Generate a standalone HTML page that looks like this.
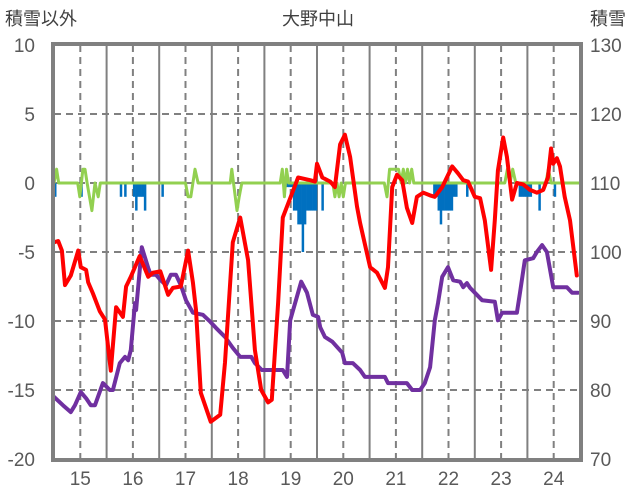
<!DOCTYPE html>
<html><head><meta charset="utf-8">
<style>
html,body{margin:0;padding:0;background:#fff;}
svg{display:block;font-family:"Liberation Sans","Noto Sans CJK JP",sans-serif;}
</style></head>
<body>
<svg id="chart" width="636" height="501" viewBox="0 0 636 501" xmlns="http://www.w3.org/2000/svg">
<text x="5" y="25" font-size="18" fill="#404040">積雪以外</text>
<text x="318" y="25" font-size="18" fill="#404040" text-anchor="middle">大野中山</text>
<text x="590" y="25" font-size="18" fill="#404040">積雪</text>
<g id="grid"></g>
<g id="bars"></g>
<g id="lines"></g>
<g id="axes"></g>
</svg>
<script>
const leftTicks = [10, 5, 0, -5, -10, -15, -20];
const rightTicks = [130, 120, 110, 100, 90, 80, 70];
const dayLabels = [15, 16, 17, 18, 19, 20, 21, 22, 23, 24];

const redT = [15.00,15.08,15.15,15.21,15.32,15.46,15.51,15.61,15.65,15.74,15.87,15.97,16.08,16.18,16.31,16.37,16.46,16.63,16.79,16.88,17.02,17.17,17.26,17.41,17.55,17.64,17.70,17.79,17.98,18.16,18.25,18.40,18.54,18.69,18.82,18.94,19.07,19.14,19.26,19.35,19.49,19.64,19.87,19.96,20.00,20.10,20.25,20.34,20.44,20.53,20.63,20.76,20.82,21.01,21.14,21.29,21.35,21.43,21.52,21.62,21.71,21.81,21.90,22.02,22.15,22.24,22.38,22.57,22.68,22.78,22.87,23.00,23.10,23.19,23.31,23.38,23.44,23.54,23.61,23.71,23.80,23.92,24.05,24.18,24.30,24.39,24.45,24.49,24.56,24.62,24.71,24.81,24.94];
const redV = [-4.3,-4.2,-4.9,-7.4,-6.7,-4.9,-6.1,-6.3,-7.2,-8.0,-9.3,-9.9,-13.6,-9.0,-9.7,-7.5,-6.8,-5.3,-6.8,-6.5,-6.4,-8.1,-7.6,-7.5,-4.9,-7.2,-9.2,-15.2,-17.3,-16.8,-13.0,-4.3,-2.5,-5.6,-12.1,-15.0,-15.9,-15.7,-8.7,-2.5,-1.1,0.4,0.2,0.1,1.4,0.4,0.1,-0.3,2.8,3.5,1.9,-1.7,-2.9,-6.1,-6.5,-7.6,-6.1,-0.3,0.6,0.2,-1.8,-2.9,-1.0,-0.7,-0.9,-1.0,-0.3,1.2,0.7,0.2,0.1,-1.0,-1.1,-2.7,-6.3,-2.7,0.9,3.3,1.9,-1.2,0.0,-0.1,-0.5,-0.7,-0.5,0.4,2.5,1.4,1.8,1.2,-1.0,-2.7,-6.7];

const snowT = [15.00,15.17,15.32,15.40,15.51,15.61,15.70,15.78,15.93,16.06,16.12,16.25,16.35,16.41,16.46,16.54,16.56,16.67,16.79,16.84,16.94,17.03,17.13,17.22,17.32,17.41,17.51,17.64,17.83,17.97,18.08,18.25,18.40,18.54,18.75,18.82,18.95,19.35,19.43,19.49,19.70,19.81,19.92,20.02,20.06,20.15,20.29,20.48,20.53,20.68,20.82,20.91,21.29,21.35,21.71,21.81,21.96,22.05,22.15,22.24,22.30,22.38,22.49,22.59,22.72,22.78,22.85,22.91,23.00,23.14,23.38,23.44,23.52,23.80,23.86,23.95,24.11,24.18,24.28,24.37,24.49,24.75,24.85,24.96];
const snowV = [79.0,77.8,76.8,77.8,79.7,78.8,77.8,77.8,81.0,80.0,80.0,83.9,84.8,84.3,85.8,92.6,91.6,100.7,97.7,96.7,96.7,95.9,95.2,96.7,96.7,95.2,93.0,91.2,90.9,89.9,89.0,87.7,86.1,84.8,84.8,83.9,82.9,82.9,81.9,90.1,95.7,94.1,90.9,90.6,89.1,87.7,87.0,85.4,83.9,83.9,82.9,81.9,81.9,81.0,81.0,80.0,80.0,81.0,83.3,90.1,92.6,96.4,97.8,95.9,95.7,94.9,95.5,94.8,94.1,93.0,92.8,90.1,91.2,91.2,94.1,98.8,99.1,100.0,101.0,100.0,94.9,94.9,94.1,94.1];

const greenT = [15.00,15.05,15.09,15.45,15.49,15.55,15.59,15.63,15.72,15.78,15.84,15.88,17.50,17.55,17.60,17.68,17.74,18.35,18.38,18.48,18.52,18.57,19.30,19.34,19.38,19.42,19.46,20.30,20.34,20.38,20.42,20.46,20.50,20.54,21.28,21.33,21.38,21.55,21.60,21.64,21.68,21.72,21.76,21.80,21.84,21.92,23.57,23.62,23.67,23.72,23.78,24.35,24.40,24.45,25.00];
const greenV = [0,1,0,0,-1,1,1,0,-2,0,-1,0,0,-1,-1,1,0,0,1,-2,-1,0,0,1,-1,1,0,0,-1,0,-1,0,-1,0,0,-1,1,1,0,1,0,1,0,1,0,0,0,1,0,1,0,0,1,0,0];

const precipH = [0,12,30,32,36,37,38,39,40,41,49,106,107,108,109,110,111,112,113,114,115,116,117,118,119,122,173,174,175,176,177,178,179,180,181,182,183,188,212,213,214,215,216,217,221,228];
const precipV = [-1,-1,-1,-1,-1,-2,-1,-1,-1,-2,-1,-0.3,-0.3,-0.3,-2,-2,-3,-3,-5,-3,-2,-2,-2,-2,-2,-2,-1,-1,-2,-3,-2,-2,-2,-2,-2,-1,-1,-1,-1,-1,-1,-1,-1,-1,-2,-1];

const X0 = 54, X1 = 580, YT = 45, YB = 459;
const xT = t => X0 + (t - 15) / 10 * (X1 - X0);
const yL = v => YB - (v + 20) / 30 * (YB - YT);
const yR = v => YB - (v - 70) / 60 * (YB - YT);
const NS = "http://www.w3.org/2000/svg";
function mk(tag, parent, attrs) {
  const e = document.createElementNS(NS, tag);
  for (const k in attrs) e.setAttribute(k, attrs[k]);
  parent.appendChild(e);
  return e;
}
const grid = document.getElementById('grid');
const bars = document.getElementById('bars');
const lines = document.getElementById('lines');
const axes = document.getElementById('axes');

leftTicks.forEach((v, i) => {
  const y = yL(v);
  if (i > 0 && i < leftTicks.length - 1) {
    const g = mk('line', grid, {x1: X0, x2: X1, y1: y, y2: y, stroke: '#808080', 'stroke-width': 2, 'stroke-dasharray': '7,5'});
    
    
  }
  const t = mk('text', axes, {x: 35, y: y + 7, 'font-size': 19, fill: '#595959', 'text-anchor': 'end'});
  t.textContent = v;
  
  
});
rightTicks.forEach(v => {
  const t = mk('text', axes, {x: 590, y: yR(v) + 7, 'font-size': 19, fill: '#595959'});
  t.textContent = v;
  
  
});
dayLabels.forEach(d => {
  const xm = xT(d + 0.5);
  const g = mk('line', grid, {x1: xm, x2: xm, y1: YT, y2: YB, stroke: '#808080', 'stroke-width': 2, 'stroke-dasharray': '7,5'});
  
  
  if (d > 15) {
    const xs = xT(d);
    const s = mk('line', grid, {x1: xs, x2: xs, y1: YT, y2: YB, stroke: '#808080', 'stroke-width': 2});
    
    
  }
  const t = mk('text', axes, {x: xm, y: 485, 'font-size': 19, fill: '#595959', 'text-anchor': 'middle'});
  t.textContent = d;
  
  
});

const bw = (X1 - X0) / 240;
precipH.forEach((h, i) => {
  const x = xT(15 + h / 24);
  const y0 = yL(0), y1 = yL(precipV[i]);
  const r = mk('rect', bars, {x: x, y: Math.min(y0, y1), width: bw + 0.3, height: Math.abs(y1 - y0), fill: '#0070C0'});
  
  
});

function poly(T, V, yf, color, w, name) {
  const pts = T.map((t, i) => xT(t).toFixed(1) + ',' + yf(V[i]).toFixed(1)).join(' ');
  const p = mk('polyline', lines, {points: pts, fill: 'none', stroke: color, 'stroke-width': w, 'stroke-linejoin': 'round', 'stroke-linecap': 'round'});
  
  
}
poly(greenT, greenV, yL, '#92D050', 3, 'wind-line');
poly(snowT, snowV, yR, '#7030A0', 4, 'snow-depth-line');
poly(redT, redV, yL, '#FF0000', 4, 'temperature-line');

const f = mk('rect', axes, {x: X0 - 1, y: YT - 1, width: X1 - X0 + 2, height: YB - YT + 2, fill: 'none', stroke: '#808080', 'stroke-width': 4});


</script>
</body></html>
